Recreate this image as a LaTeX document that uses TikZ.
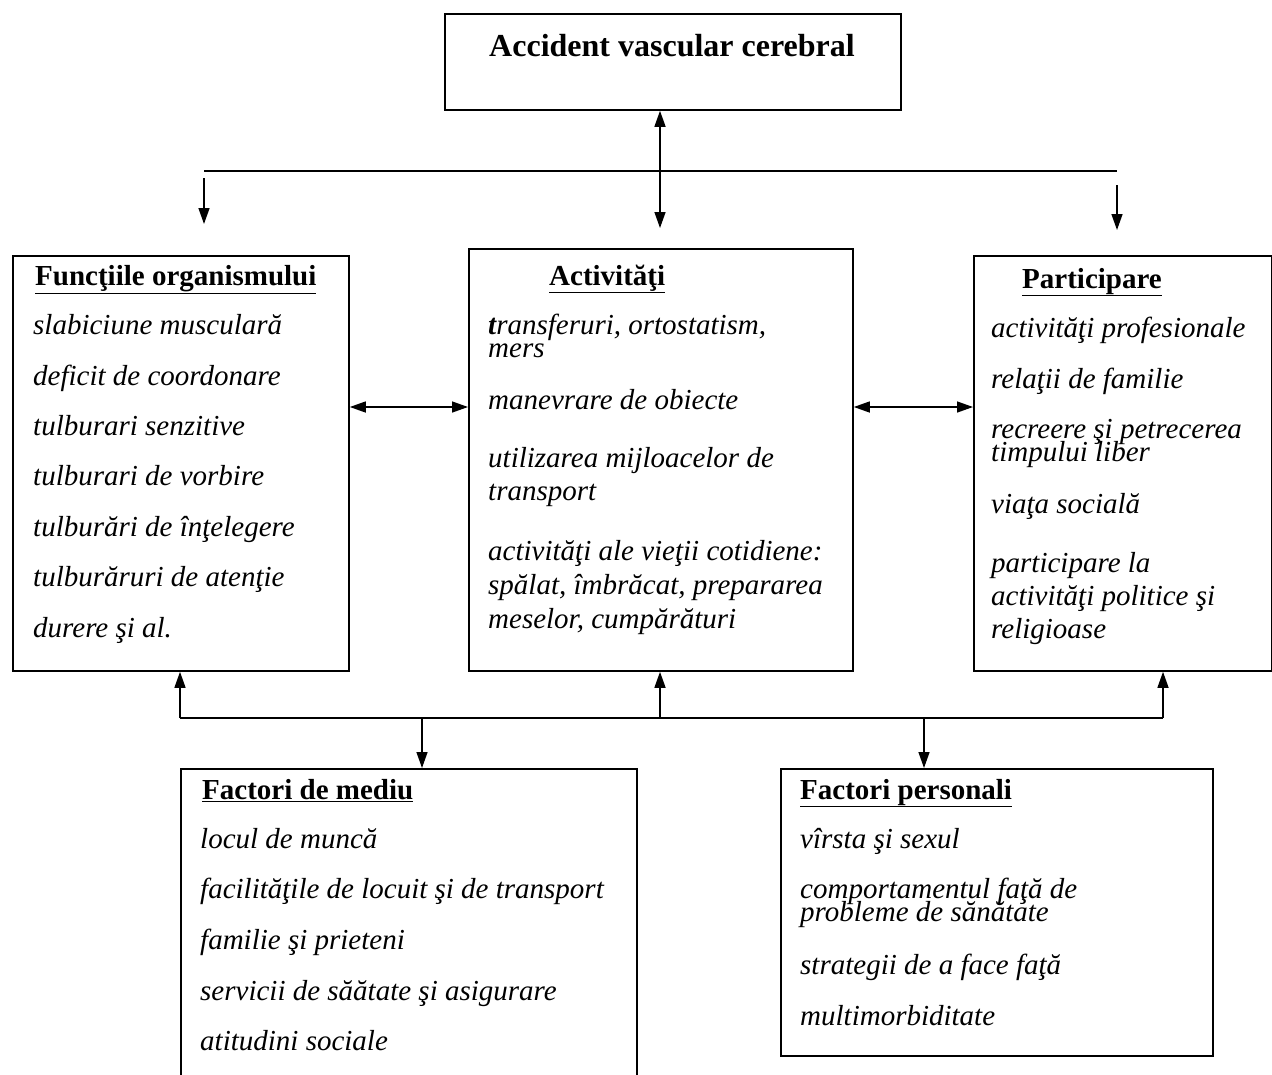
\documentclass[tikz,border=0pt]{standalone}
\usepackage{fontspec}
\setmainfont{Liberation Serif}
\usetikzlibrary{arrows.meta}
\begin{document}
\begin{tikzpicture}[x=1pt,y=-1pt,
  box/.style={draw,line width=1.8pt,anchor=north west,inner sep=0pt},
  itm/.style={anchor=base west,inner sep=0pt,font=\fontsize{29}{32}\selectfont\itshape},
  hdr/.style={anchor=base west,inner sep=0pt,font=\fontsize{29}{32}\selectfont\bfseries},
  conn/.style={line width=1.4pt},
  tip/.style={-{Triangle[length=16pt,width=11pt]}},
  tips/.style={{Triangle[length=16pt,width=11pt]}-{Triangle[length=16pt,width=11pt]}}
]
\useasboundingbox (0,0) rectangle (1272,1074);
% boxes
\node[box,minimum width=456pt,minimum height=96pt] (top) at (444,13) {};
\node[box,minimum width=336pt,minimum height=415pt] (f) at (12,255) {};
\node[box,minimum width=384pt,minimum height=422pt] (a) at (468,248) {};
\node[box,minimum width=298pt,minimum height=415pt] (p) at (973,255) {};
\node[box,minimum width=456pt,minimum height=320pt] (m) at (180,768) {};
\node[box,minimum width=432pt,minimum height=287pt] (r) at (780,768) {};
% title
\node[anchor=base,inner sep=0pt,font=\fontsize{32}{34}\selectfont\bfseries] (title) at (672,56) {Accident vascular cerebral};
% top connectors
\coordinate (h1) at (204,171);
\coordinate (h2) at (1117,171);
\draw[conn] (h1) -- (h2);
\coordinate (la) at (204,178);
\coordinate (lb) at (204,224);
\draw[conn,tip] (la) -- (lb);
\coordinate (mb) at (660,228);
\draw[conn,tips] (top.south -| mb) -- (mb);
\coordinate (ra) at (1117,185);
\coordinate (rb) at (1117,230);
\draw[conn,tip] (ra) -- (rb);
% horizontal double arrows
\coordinate (yh) at (0,407);
\draw[conn,tips] (f.east |- yh) -- (a.west |- yh);
\draw[conn,tips] (a.east |- yh) -- (p.west |- yh);
% bottom bus
\coordinate (b1) at (180,718);
\coordinate (b2) at (660,718);
\coordinate (b3) at (1163,718);
\coordinate (d1) at (422,718);
\coordinate (d2) at (924,718);
\draw[conn] (b1) -- (b3);
\draw[conn,tip] (b1) -- (f.south -| b1);
\draw[conn,tip] (b2) -- (a.south -| b2);
\draw[conn,tip] (b3) -- (p.south -| b3);
\draw[conn,tip] (d1) -- (m.north -| d1);
\draw[conn,tip] (d2) -- (r.north -| d2);
% left box text
\node[hdr] (fh) at (35,285) {\underline{Funcţiile organismului}};
\node[itm] (f1) at (33,334) {slabiciune musculară};
\node[itm] (f2) at (33,385) {deficit de coordonare};
\node[itm] (f3) at (33,435) {tulburari senzitive};
\node[itm] (f4) at (33,485) {tulburari de vorbire};
\node[itm] (f5) at (33,536) {tulburări de înţelegere};
\node[itm] (f6) at (33,586) {tulburăruri de atenţie};
\node[itm] (f7) at (33,637) {durere şi al.};
% middle box text
\node[hdr] (ah) at (549,285) {\underline{Activităţi}};
\node[itm] (a1) at (488,334) {\textbf{t}ransferuri, ortostatism,};
\node[itm] (a2) at (488,357) {mers};
\node[itm] (a3) at (488,409) {manevrare de obiecte};
\node[itm] (a4) at (488,467) {utilizarea mijloacelor de};
\node[itm] (a5) at (488,500) {transport};
\node[itm] (a6) at (488,560) {activităţi ale vieţii cotidiene:};
\node[itm] (a7) at (488,594) {spălat, îmbrăcat, prepararea};
\node[itm] (a8) at (488,628) {meselor, cumpărături};
% right box text
\node[hdr] (ph) at (1022,288) {\underline{Participare}};
\node[itm] (p1) at (991,337) {activităţi profesionale};
\node[itm] (p2) at (991,388) {relaţii de familie};
\node[itm] (p3) at (991,438) {recreere şi petrecerea};
\node[itm] (p4) at (991,461) {timpului liber};
\node[itm] (p5) at (991,513) {viaţa socială};
\node[itm] (p6) at (991,572) {participare la};
\node[itm] (p7) at (991,605) {activităţi politice şi};
\node[itm] (p8) at (991,638) {religioase};
% bottom left text
\node[hdr] (mh) at (202,799) {\underline{Factori de mediu}};
\node[itm] (m1) at (200,848) {locul de muncă};
\node[itm] (m2) at (200,898) {facilităţile de locuit şi de transport};
\node[itm] (m3) at (200,949) {familie şi prieteni};
\node[itm] (m4) at (200,1000) {servicii de săătate şi asigurare};
\node[itm] (m5) at (200,1050) {atitudini sociale};
% bottom right text
\node[hdr] (rh) at (800,799) {\underline{Factori personali}};
\node[itm] (r1) at (800,848) {vîrsta şi sexul};
\node[itm] (r2) at (800,898) {comportamentul faţă de};
\node[itm] (r3) at (800,921) {probleme de sănătate};
\node[itm] (r4) at (800,974) {strategii de a face faţă};
\node[itm] (r5) at (800,1025) {multimorbiditate};
\end{tikzpicture}
\end{document}
